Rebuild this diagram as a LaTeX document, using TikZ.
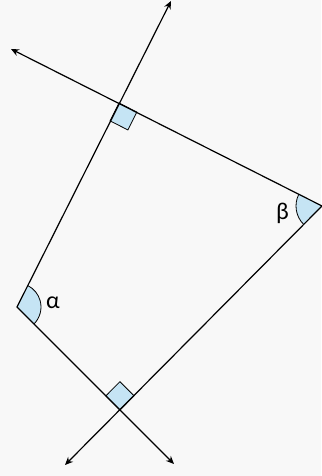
\documentclass[tikz,border=0pt]{standalone}
\usepackage{fontspec}
\setmainfont{Carlito}
\usetikzlibrary{arrows.meta, calc, angles}
\definecolor{paper}{HTML}{F8F8F8}
\definecolor{anglefill}{HTML}{C5E4F4}

\begin{document}
\begin{tikzpicture}[x=1pt, y=1pt, >={Stealth[length=8pt, width=7pt]},
    ray/.style={line width=1.2pt, line join=miter},
    anglemark/.style={draw, line width=0.8pt, fill=anglefill},
    lbl/.style={font=\fontsize{24}{28}\selectfont, inner sep=0pt}]

  % page
  \fill[paper] (0,0) rectangle (321,476);
  \useasboundingbox (0,0) rectangle (321,476);

  % corners of the quadrilateral
  \coordinate (a) at (17,169);
  \coordinate (p) at (119,373);
  \coordinate (b) at (322,270);
  \coordinate (q) at (120,66);

  % free ends of the rays
  \coordinate (ta) at (171,475);
  \coordinate (tb) at (11,427);
  \coordinate (tc) at (65,11);
  \coordinate (td) at (174,12);

  % angle marks
  \pic[anglemark, angle radius=24pt] {angle = q--a--p};
  \pic[anglemark, angle radius=26pt] {angle = p--b--q};

  % right angles
  \coordinate (p1) at ($(p)!20pt!(a)$);
  \coordinate (p2) at ($(p)!20pt!(b)$);
  \draw[anglemark] (p) -- (p1) -- ($(p1)+(p2)-(p)$) -- (p2) -- cycle;
  \coordinate (q1) at ($(q)!20pt!(a)$);
  \coordinate (q2) at ($(q)!20pt!(b)$);
  \draw[anglemark] (q) -- (q1) -- ($(q1)+(q2)-(q)$) -- (q2) -- cycle;

  % the two pairs of rays
  \draw[ray, <->] (ta) -- (a) -- (td);
  \draw[ray, <->] (tb) -- (b) -- (tc);

  % labels
  \node[lbl] (alpha) at ($(a)+(36,4)$) {α};
  \node[lbl] (beta) at ($(b)+(-39.5,-7)$) {β};
\end{tikzpicture}
\end{document}
